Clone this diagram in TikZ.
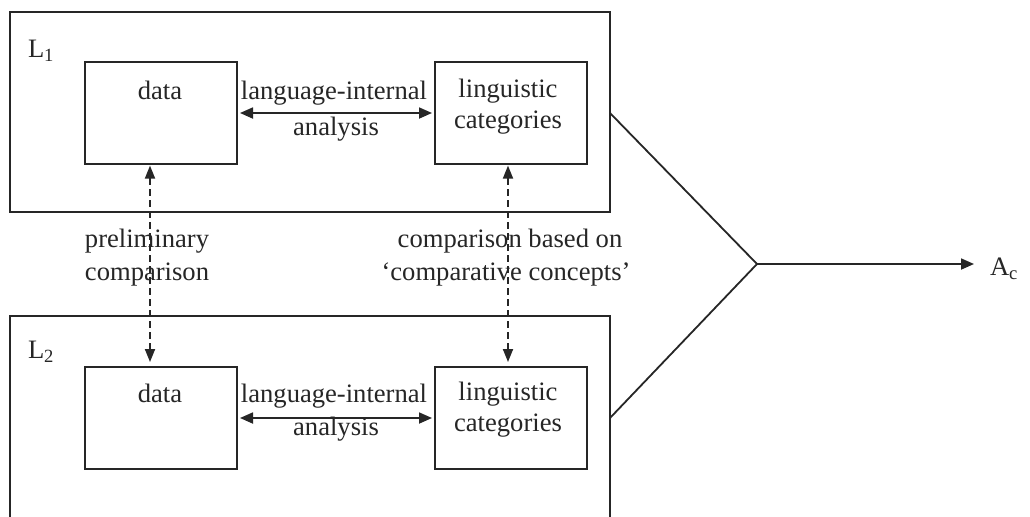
\documentclass[tikz,border=0pt]{standalone}
\usepackage{fontspec}
\setmainfont{Liberation Serif}
\usetikzlibrary{arrows.meta,calc}
\begin{document}
\begin{tikzpicture}[x=0.5pt,y=-0.5pt,
  every node/.style={inner sep=0pt, outer sep=0pt},
  txt/.style={font=\fontsize{13.3}{15.5}\selectfont, text=black!85, anchor=base},
  box/.style={draw=black!85, line width=0.9pt, minimum width=76pt, minimum height=51pt},
  frame/.style={draw=black!85, line width=0.9pt, minimum width=300pt},
  tip/.style={-{Triangle[length=6.5pt,width=5.5pt]}},
  conn/.style={draw=black!85, line width=0.9pt},
  dconn/.style={conn, dash pattern=on 3.5pt off 2pt, {Triangle[length=6.5pt,width=5pt]}-{Triangle[length=6.5pt,width=5pt]}},
  both/.style={conn, {Triangle[length=6.5pt,width=5.5pt]}-{Triangle[length=6.5pt,width=5.5pt]}}
]
\useasboundingbox (0,0) rectangle (1030,516);
\clip (0,0) rectangle (1030,516);
\fill[white] (0,0) rectangle (1030,516);

% frames
\node[frame, minimum height=100pt] (L1) at (310,112) {};
\node[frame, minimum height=110pt] (L2) at (310,426) {};
\node[txt, anchor=base west] (l1) at (28,57) {L\textsubscript{1}};
\node[txt, anchor=base west] (l2) at (28,358) {L\textsubscript{2}};

% boxes L1
\node[box] (d1) at (161,113) {};
\node[box] (c1) at (511,113) {};
\node[txt] (d1t) at (160,99) {data};
\node[txt] (c1a) at (508,97) {linguistic};
\node[txt] (c1b) at (508,128) {categories};
\node[txt] (a1a) at (334,99) {language-internal};
\node[txt] (a1b) at (336,135) {analysis};
\draw[both, shorten <=1.5pt, shorten >=1.5pt] (d1) -- (c1);

% boxes L2
\node[box] (d2) at (161,418) {};
\node[box] (c2) at (511,418) {};
\node[txt] (d2t) at (160,402) {data};
\node[txt] (c2a) at (508,400) {linguistic};
\node[txt] (c2b) at (508,431) {categories};
\node[txt] (a2a) at (334,402) {language-internal};
\node[txt] (a2b) at (336,435) {analysis};
\draw[both, shorten <=1.5pt, shorten >=1.5pt] (d2) -- (c2);

% comparisons
\draw[dconn, shorten <=0.8pt, shorten >=2.5pt] ([xshift=-5.5pt]d1.south) -- ([xshift=-5.5pt]d2.north);
\draw[dconn, shorten <=0.8pt, shorten >=2.5pt] ([xshift=-1.5pt]c1.south) -- ([xshift=-1.5pt]c2.north);
\node[txt] (p1) at (147,247) {preliminary};
\node[txt] (p2) at (147,280) {comparison};
\node[txt] (q1) at (510,247) {comparison based on};
\node[txt] (q2) at (506,280) {‘comparative concepts’};

% convergence
\coordinate (apex) at (757,264);
\node[txt, anchor=base west] (Ac) at (990,275) {A\textsubscript{c}};
\draw[conn] (L1.east |- c1) -- (apex) -- (L2.east |- c2);
\draw[conn, tip, shorten >=8pt] (apex) -- (apex -| Ac.west);
\end{tikzpicture}
\end{document}
